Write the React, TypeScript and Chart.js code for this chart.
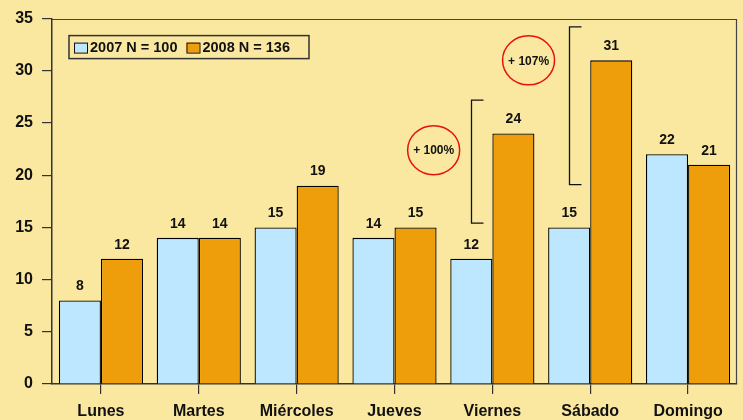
import React, { useEffect, useRef } from "react";
import { Chart, registerables } from "chart.js";

Chart.register(...registerables);

const categories = ["Lunes", "Martes", "Miércoles", "Jueves", "Viernes", "Sábado", "Domingo"];
const values2007 = [8, 14, 15, 14, 12, 15, 22];
const values2008 = [12, 14, 19, 15, 24, 31, 21];
const seriesLabels = ["2007 N = 100", "2008 N = 136"];
const seriesColors = ["#BDE6FF", "#EE9E0A"];
const yMax = 35;
const yStep = 5;

// annotations: bracket over the 2007 bar of a category, spanning data values
const brackets = [
  { category: 4, top: 27.2, bottom: 15.4 },
  { category: 5, top: 34.2, bottom: 19.1 },
];
// red circles: position given as fractional category index and data value
const circles = [
  { x: 3.4, y: 22.4, text: "+ 100%" },
  { x: 4.37, y: 31, text: "+ 107%" },
];

const BG = "#FAE8A0";
const FONT = "'Liberation Sans', Arial, sans-serif";

export default function App() {
  const ref = useRef<HTMLCanvasElement | null>(null);

  useEffect(() => {
    const canvas = ref.current;
    if (!canvas) return;

    const bgPlugin = {
      id: "bg",
      beforeDraw(chart: any) {
        const { ctx, width, height } = chart;
        ctx.save();
        ctx.fillStyle = BG;
        ctx.fillRect(0, 0, width, height);
        ctx.restore();
      },
    };

    const overlay = {
      id: "overlay",
      afterDatasetsDraw(chart: any) {
        const { ctx, chartArea } = chart;
        const xs = chart.scales.x;
        const ys = chart.scales.y;
        ctx.save();
        // frame (top and right)
        ctx.strokeStyle = "#444";
        ctx.lineWidth = 1.2;
        ctx.beginPath();
        ctx.moveTo(chartArea.left, Math.round(chartArea.top) + 0.5);
        ctx.lineTo(Math.round(chartArea.right) - 0.5, Math.round(chartArea.top) + 0.5);
        ctx.lineTo(Math.round(chartArea.right) - 0.5, chartArea.bottom);
        ctx.stroke();

        // data labels
        ctx.fillStyle = "#111";
        ctx.font = `bold 14px ${FONT}`;
        ctx.textAlign = "center";
        ctx.textBaseline = "middle";
        chart.data.datasets.forEach((ds: any, di: number) => {
          const meta = chart.getDatasetMeta(di);
          meta.data.forEach((bar: any, i: number) => {
            ctx.fillText(String(ds.data[i]), bar.x, bar.y - 14);
          });
        });

        // brackets
        ctx.strokeStyle = "#111";
        ctx.lineWidth = 1.3;
        const meta0 = chart.getDatasetMeta(0);
        brackets.forEach((b) => {
          const x = Math.round(meta0.data[b.category].x) + 0.5;
          const yt = ys.getPixelForValue(b.top);
          const yb = ys.getPixelForValue(b.bottom);
          ctx.beginPath();
          ctx.moveTo(x + 12, yt);
          ctx.lineTo(x, yt);
          ctx.lineTo(x, yb);
          ctx.lineTo(x + 12, yb);
          ctx.stroke();
        });

        // circles
        circles.forEach((c) => {
          const cx = xs.getPixelForValue(c.x);
          const cy = ys.getPixelForValue(c.y);
          ctx.strokeStyle = "#E81010";
          ctx.lineWidth = 1.5;
          ctx.beginPath();
          ctx.ellipse(cx, cy, 26, 24.5, 0, 0, Math.PI * 2);
          ctx.stroke();
          ctx.fillStyle = "#111";
          ctx.font = `bold 12px ${FONT}`;
          ctx.fillText(c.text, cx, cy + 1);
        });

        // legend
        const lx = chartArea.left + 17;
        const ly = chartArea.top + 17;
        ctx.strokeStyle = "#333";
        ctx.lineWidth = 1.5;
        ctx.strokeRect(lx, ly, 240, 23);
        ctx.font = `bold 14.5px ${FONT}`;
        ctx.textAlign = "left";
        let px = lx + 5;
        chart.data.datasets.forEach((ds: any, di: number) => {
          ctx.fillStyle = seriesColors[di];
          ctx.fillRect(px, ly + 7, 13, 10);
          ctx.strokeStyle = "#111";
          ctx.lineWidth = 1;
          ctx.strokeRect(px + 0.5, ly + 7.5, 13, 10);
          ctx.fillStyle = "#111";
          ctx.fillText(ds.label, px + 16, ly + 12.5);
          px += 16 + ctx.measureText(ds.label).width + 9;
        });
        ctx.restore();
      },
    };

    const chart = new Chart(canvas, {
      type: "bar",
      data: {
        labels: categories,
        datasets: [
          {
            label: seriesLabels[0],
            data: values2007,
            backgroundColor: seriesColors[0],
            borderColor: "#000",
            borderWidth: 1.3,
            categoryPercentage: 0.86,
            barPercentage: 1,
          },
          {
            label: seriesLabels[1],
            data: values2008,
            backgroundColor: seriesColors[1],
            borderColor: "#000",
            borderWidth: 1.3,
            categoryPercentage: 0.86,
            barPercentage: 1,
          },
        ],
      },
      options: {
        animation: false,
        responsive: false,
        maintainAspectRatio: false,
        layout: { padding: { top: 18, right: 6, left: 0, bottom: 0 } },
        plugins: {
          legend: { display: false },
          tooltip: { enabled: false },
        },
        scales: {
          x: {
            offset: true,
            grid: {
              offset: false,
              drawOnChartArea: false,
              tickLength: 10,
              color: "#333",
              lineWidth: 1.2,
            },
            border: { display: true, color: "#333", width: 1.5 },
            ticks: {
              color: "#111",
              font: { family: FONT, size: 16, weight: "bold" },
              padding: 8,
              maxRotation: 0,
            },
            afterFit(scale: any) {
              scale.height = 36;
            },
          },
          y: {
            min: 0,
            max: yMax,
            ticks: {
              stepSize: yStep,
              color: "#111",
              font: { family: FONT, size: 16, weight: "bold" },
              padding: 9,
            },
            grid: {
              drawOnChartArea: false,
              tickLength: 10,
              color: "#333",
              lineWidth: 1.2,
            },
            border: { display: true, color: "#333", width: 1.5 },
            afterFit(scale: any) {
              scale.width = 52;
            },
          },
        },
      },
      plugins: [bgPlugin, overlay],
    });

    return () => chart.destroy();
  }, []);

  return (
    <div style={{ position: "fixed", left: 0, top: 0, width: 743, height: 420 }}>
      <canvas ref={ref} width={743} height={420} style={{ display: "block" }} />
    </div>
  );
}
